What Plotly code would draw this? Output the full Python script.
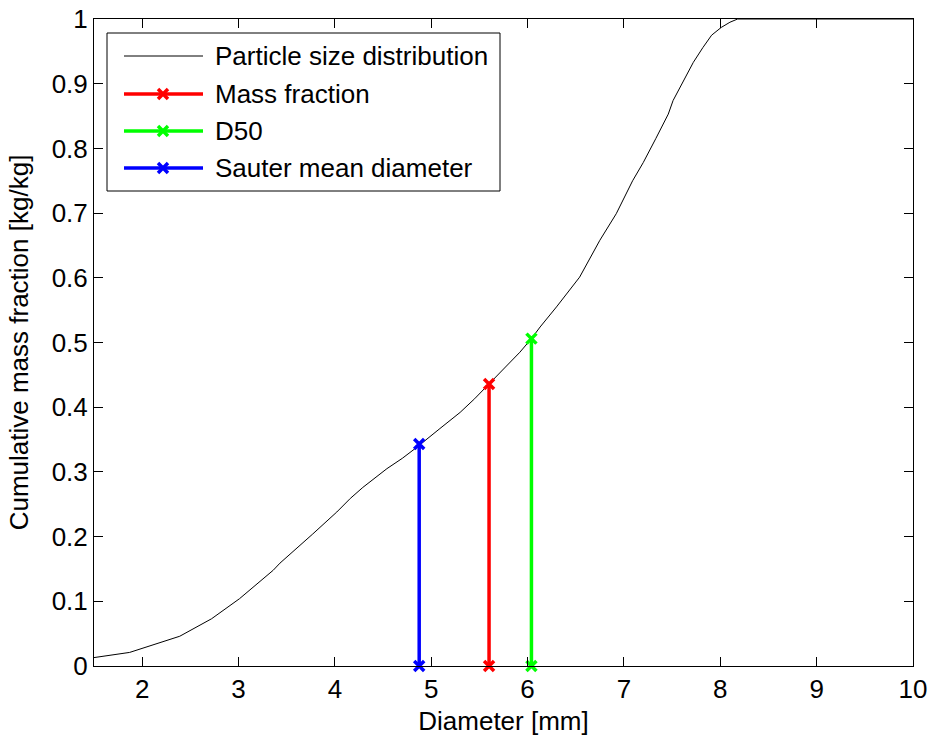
import plotly.graph_objects as go

# Cumulative particle size distribution
diameter_mm = [1.5, 1.87, 2.39, 2.72, 3.01, 3.36, 3.43, 3.59, 3.77, 4.02, 4.16, 4.29,
               4.42, 4.54, 4.70, 4.85, 5.09, 5.30, 5.45, 5.60, 5.76, 5.92, 6.04,
               6.13, 6.30, 6.54, 6.75, 6.92, 7.09, 7.20, 7.33, 7.46, 7.51, 7.61,
               7.72, 7.82, 7.91, 8.01, 8.10, 8.18, 10.0]
cum_mass = [0.013, 0.021, 0.046, 0.073, 0.104, 0.148, 0.159, 0.180, 0.204, 0.238,
            0.259, 0.276, 0.291, 0.305, 0.321, 0.338, 0.367, 0.392, 0.413, 0.436,
            0.460, 0.485, 0.506, 0.524, 0.555, 0.601, 0.658, 0.699, 0.750, 0.778,
            0.815, 0.853, 0.874, 0.902, 0.933, 0.956, 0.975, 0.987, 0.995, 1.0,
            1.0]

# Characteristic diameters and their cumulative mass fraction
marker_names = ["Mass fraction", "D50", "Sauter mean diameter"]
marker_diam = [5.60, 6.04, 4.875]
marker_frac = [0.436, 0.506, 0.343]
marker_colors = ["#ff0000", "#00ff00", "#0000ff"]

x_ticks = [2, 3, 4, 5, 6, 7, 8, 9, 10]
y_ticks = [0, 0.1, 0.2, 0.3, 0.4, 0.5, 0.6, 0.7, 0.8, 0.9, 1]

FONT = "Liberation Sans, Arial, sans-serif"
FS = 26
W, H = 931, 738
ML, MR, MT, MB = 94, 18, 19, 72
PW, PH = W - ML - MR, H - MT - MB

MARK = dict(symbol="x-thin", size=10)

fig = go.Figure()

fig.add_trace(go.Scatter(x=diameter_mm, y=cum_mass, mode="lines",
                         line=dict(color="black", width=1),
                         name="Particle size distribution", showlegend=False))

for name, d, f, c in zip(marker_names, marker_diam, marker_frac, marker_colors):
    fig.add_trace(go.Scatter(x=[d, d], y=[0, f], mode="lines+markers",
                             line=dict(color=c, width=3.5),
                             marker=dict(**MARK, line=dict(color=c, width=3.5)),
                             name=name, showlegend=False, cliponaxis=False))

# Legend box drawn on a pixel-unit overlay of the plot area
leg_left, leg_top, leg_right, leg_bottom = 13, 14, 406, 172
row_y = [37, 75, 112, 149]
line_x0, line_x1, mark_x, text_x = 30, 109, 69, 119
leg_labels = ["Particle size distribution"] + marker_names
leg_colors = ["black"] + marker_colors
leg_widths = [1, 3.5, 3.5, 3.5]

shapes = [dict(type="rect", xref="x2", yref="y2", x0=leg_left, x1=leg_right,
               y0=leg_top, y1=leg_bottom, line=dict(color="black", width=1),
               fillcolor="white", layer="below")]
annotations = []
for i, (lab, col, lw) in enumerate(zip(leg_labels, leg_colors, leg_widths)):
    fig.add_trace(go.Scatter(x=[line_x0, line_x1], y=[row_y[i], row_y[i]],
                             xaxis="x2", yaxis="y2", mode="lines",
                             line=dict(color=col, width=lw), showlegend=False,
                             hoverinfo="skip"))
    if i > 0:
        fig.add_trace(go.Scatter(x=[mark_x], y=[row_y[i]], xaxis="x2", yaxis="y2",
                                 mode="markers",
                                 marker=dict(**MARK, line=dict(color=col, width=3.5)),
                                 showlegend=False, hoverinfo="skip"))
    annotations.append(dict(xref="x2", yref="y2", x=text_x, y=row_y[i], text=lab,
                            showarrow=False, xanchor="left", yanchor="middle",
                            font=dict(family=FONT, size=FS, color="black")))

axis_common = dict(showgrid=False, zeroline=False, showline=True, linecolor="black",
                   linewidth=1, mirror="ticks", ticks="inside", ticklen=9,
                   tickcolor="black", tickwidth=1, automargin=False,
                   tickfont=dict(family=FONT, size=FS, color="black"))

fig.update_layout(
    width=W, height=H,
    margin=dict(l=ML, r=MR, t=MT, b=MB, pad=0),
    paper_bgcolor="white", plot_bgcolor="white",
    showlegend=False,
    font=dict(family=FONT, size=FS, color="black"),
    xaxis=dict(range=[1.5, 10], tickvals=x_ticks, ticktext=[str(v) for v in x_ticks],
               title=dict(text="Diameter [mm]", font=dict(family=FONT, size=FS),
                          standoff=8),
               **axis_common),
    yaxis=dict(range=[0, 1], tickvals=y_ticks,
               ticktext=[("%g" % v) for v in y_ticks],
               title=dict(text="Cumulative mass fraction [kg/kg]",
                          font=dict(family=FONT, size=FS), standoff=15),
               **axis_common),
    xaxis2=dict(range=[0, PW], overlaying="x", visible=False, fixedrange=True),
    yaxis2=dict(range=[PH, 0], overlaying="y", visible=False, fixedrange=True),
    shapes=shapes,
    annotations=annotations,
)

fig.write_html("out.html")
